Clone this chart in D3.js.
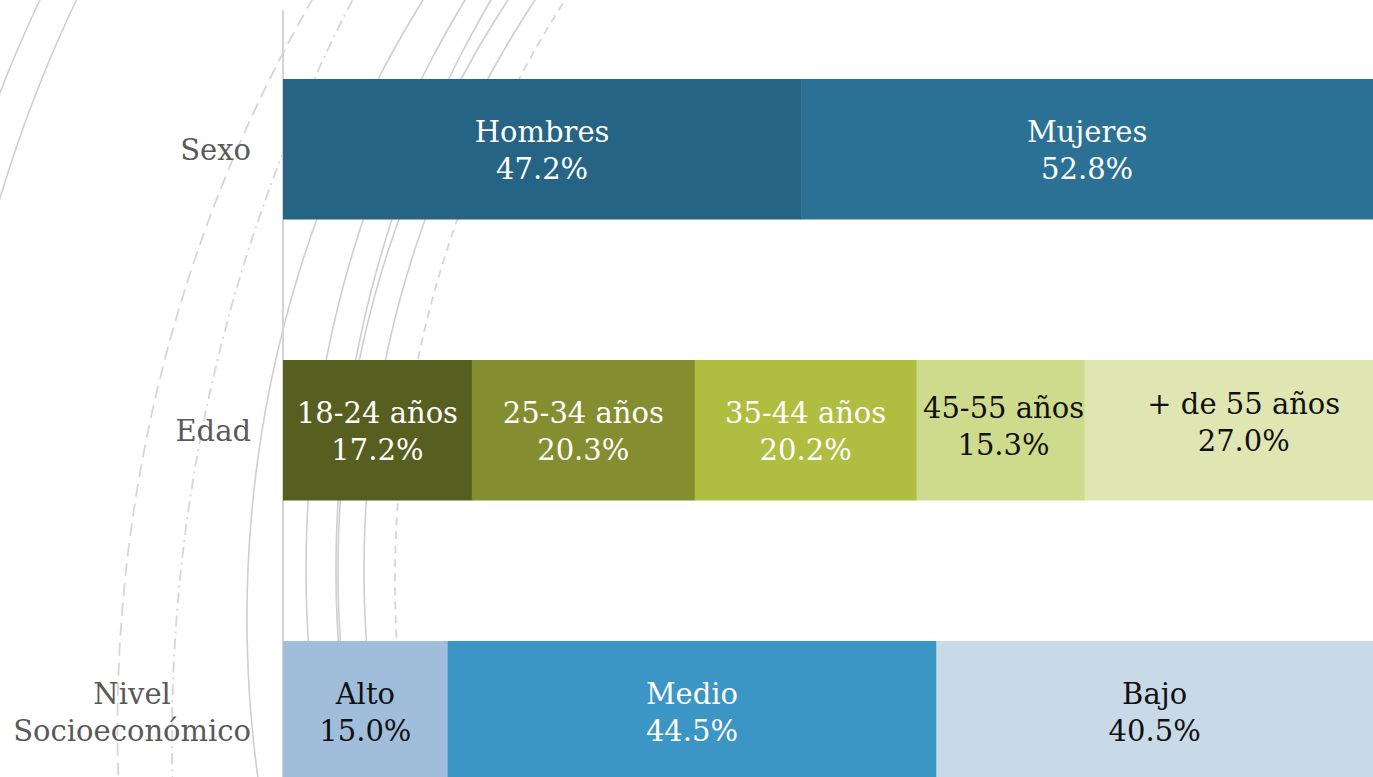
<!DOCTYPE html>
<html>
<head>
<meta charset="utf-8">
<script src="https://cdn.jsdelivr.net/npm/d3@7"></script>
<style>
  html, body { margin: 0; padding: 0; background: #ffffff; overflow: hidden; }
  svg { display: block; }
  text { font-family: "DejaVu Serif", serif; }
</style>
</head>
<body>
<svg id="chart" width="1373" height="777"></svg>
<script>
// ---- Data ----
const categories = ["Sexo", "Edad", "Nivel Socioeconómico"];

const sexoLabels = ["Hombres", "Mujeres"];
const sexoValues = [47.2, 52.8];
const sexoColors = ["#256484", "#2b7196"];
const sexoText   = ["#ffffff", "#ffffff"];

const edadLabels = ["18-24 años", "25-34 años", "35-44 años", "45-55 años", "+ de 55 años"];
const edadValues = [17.2, 20.3, 20.2, 15.3, 27.0];
const edadColors = ["#575f20", "#848e30", "#afbe41", "#cfdb8c", "#e0e6b2"];
const edadText   = ["#ffffff", "#ffffff", "#ffffff", "#111111", "#111111"];

const nseLabels = ["Alto", "Medio", "Bajo"];
const nseValues = [15.0, 44.5, 40.5];
const nseColors = ["#a0bedb", "#3b95c5", "#c8d9e8"];
const nseText   = ["#111111", "#ffffff", "#111111"];

const groups = [
  { cat: categories[0], labels: sexoLabels, values: sexoValues, colors: sexoColors, text: sexoText },
  { cat: categories[1], labels: edadLabels, values: edadValues, colors: edadColors, text: edadText },
  { cat: categories[2], labels: nseLabels,  values: nseValues,  colors: nseColors,  text: nseText }
];

// ---- Layout ----
const W = 1373, H = 777;
const svg = d3.select("#chart");
const axisX = 283;

const x = d3.scaleLinear().domain([0, 100]).range([axisX, 1381]);
const y = d3.scaleBand().domain(categories).range([79, 781.5]).paddingInner(0.5).paddingOuter(0);

// ---- Decorative background arcs (theme ornament) ----
const arcs = [
  { cx: 1307, cy: 600, r: 1402,   dash: null,        w: 1.6, c: "#cfcfcf" },
  { cx: 1338, cy: 600, r: 1397,   dash: null,        w: 1.6, c: "#cfcfcf" },
  { cx: 1577, cy: 728, r: 1459.5, dash: "13,7",      w: 1.8, c: "#d6d6d6" },
  { cx: 1775, cy: 739, r: 1603,   dash: "11,5,2,5",  w: 1.8, c: "#d6d6d6" },
  { cx: 1420, cy: 618, r: 1173,   dash: null,        w: 1.6, c: "#cfcfcf" },
  { cx: 1407, cy: 570, r: 1101,   dash: null,        w: 1.6, c: "#cfcfcf" },
  { cx: 1461.6, cy: 570, r: 1125.6, dash: null,      w: 1.6, c: "#cfcfcf" },
  { cx: 1378.6, cy: 570, r: 1040.6, dash: null,      w: 1.6, c: "#cfcfcf" },
  { cx: 1399.5, cy: 570, r: 1035.5, dash: null,      w: 1.6, c: "#cfcfcf" },
  { cx: 1469, cy: 580, r: 1074,   dash: "8,6",       w: 1.8, c: "#d6d6d6" }
];
const ys = d3.range(-20, 800, 4);
const arcLine = d3.line().x(d => d[0]).y(d => d[1]).curve(d3.curveBasis);
const deco = svg.append("g").attr("class", "deco").attr("fill", "none");
arcs.forEach(a => {
  const pts = ys.map(yy => [a.cx - Math.sqrt(a.r * a.r - (yy - a.cy) * (yy - a.cy)), yy]);
  deco.append("path")
    .attr("d", arcLine(pts))
    .attr("stroke", a.c)
    .attr("stroke-width", a.w)
    .attr("stroke-dasharray", a.dash);
});

// ---- Axis line ----
svg.append("line")
  .attr("x1", axisX).attr("x2", axisX)
  .attr("y1", 10).attr("y2", H)
  .attr("stroke", "#d4d4d4").attr("stroke-width", 2);

// ---- Bars ----
const labelNudge = { "+ de 55 años": { dx: 15, dy: -9 }, "45-55 años": { dx: 3, dy: -5 } };
const fmt = v => d3.format(".1f")(v) + "%";

groups.forEach(g => {
  let cum = 0;
  const segs = g.values.map((v, i) => {
    const s = { start: cum, end: cum + v, v, label: g.labels[i], color: g.colors[i], tc: g.text[i] };
    cum += v;
    return s;
  });
  const row = svg.append("g").attr("class", "row");
  row.selectAll("rect").data(segs).join("rect")
    .attr("x", d => x(d.start))
    .attr("width", d => x(d.end) - x(d.start) + 0.5)
    .attr("y", y(g.cat))
    .attr("height", y.bandwidth())
    .attr("fill", d => d.color);

  const cy = y(g.cat) + y.bandwidth() / 2;
  const t = row.selectAll("text").data(segs).join("text")
    .attr("text-anchor", "middle")
    .attr("font-size", 29)
    .attr("fill", d => d.tc);
  t.each(function(d) {
    const n = labelNudge[d.label] || { dx: 0, dy: 0 };
    const cx = (x(d.start) + Math.min(x(d.end), W)) / 2 + n.dx;
    const sel = d3.select(this);
    sel.append("tspan").attr("x", cx).attr("y", cy - 7 + n.dy).text(d.label);
    sel.append("tspan").attr("x", cx).attr("y", cy + 30 + n.dy).text(fmt(d.v));
  });
});

// ---- Category labels ----
const catLines = { "Nivel Socioeconómico": ["Nivel", "Socioeconómico"] };
categories.forEach(c => {
  const lines = catLines[c] || [c];
  const cy = y(c) + y.bandwidth() / 2;
  const t = svg.append("text")
    .attr("font-size", 29)
    .attr("fill", "#595959")
    .attr("text-anchor", "middle");
  const spans = lines.map((ln, i) => {
    const base = lines.length === 1 ? cy + 11 : cy - 7 + i * 37;
    return t.append("tspan").attr("y", base).text(ln);
  });
  const maxW = d3.max(spans, s => s.node().getComputedTextLength());
  const xc = 251 - maxW / 2;
  spans.forEach(s => s.attr("x", xc));
});
</script>
</body>
</html>
